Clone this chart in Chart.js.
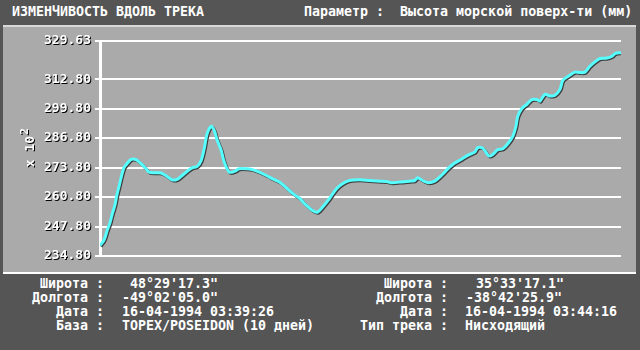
<!DOCTYPE html>
<html>
<head>
<meta charset="utf-8">
<script src="https://cdn.jsdelivr.net/npm/chart.js@4"></script>
<style>
  html,body{margin:0;padding:0;}
  body{width:640px;height:350px;background:#555555;position:relative;overflow:hidden;
       font-family:'DejaVu Sans Mono',monospace;font-weight:bold;font-size:13.3px;color:#fff;}
  .t{position:absolute;white-space:pre;line-height:14px;}
  .r{text-align:right;}
  #sepTop{position:absolute;left:3px;top:25px;width:633px;height:2px;background:#d8d8d8;}
  #plot{position:absolute;left:3px;top:27px;width:633px;height:245px;background:#aaaaaa;}
  #sepBot{position:absolute;left:3px;top:272px;width:633px;height:2px;background:#ffffff;}
</style>
</head>
<body>
<div class="t" style="left:12px;top:5px">ИЗМЕНЧИВОСТЬ ВДОЛЬ ТРЕКА</div>
<div class="t" style="left:304px;top:5px">Параметр :  Высота морской поверх-ти (мм)</div>
<div id="sepTop"></div>
<div id="plot"><canvas id="chart" width="633" height="245"></canvas></div>
<div id="sepBot"></div>

<div class="t r" style="right:536px;top:277px">Широта :</div>
<div class="t r" style="right:536px;top:291px">Долгота :</div>
<div class="t r" style="right:536px;top:305px">Дата :</div>
<div class="t r" style="right:536px;top:319px">База :</div>
<div class="t" style="left:130px;top:277px">48°29'17.3"</div>
<div class="t" style="left:122px;top:291px">-49°02'05.0"</div>
<div class="t" style="left:122px;top:305px">16-04-1994 03:39:26</div>
<div class="t" style="left:122px;top:319px">TOPEX/POSEIDON (10 дней)</div>

<div class="t r" style="right:192px;top:277px">Широта :</div>
<div class="t r" style="right:192px;top:291px">Долгота :</div>
<div class="t r" style="right:192px;top:305px">Дата :</div>
<div class="t r" style="right:192px;top:319px">Тип трека :</div>
<div class="t" style="left:476px;top:277px">35°33'17.1"</div>
<div class="t" style="left:466px;top:291px">-38°42'25.9"</div>
<div class="t" style="left:465px;top:305px">16-04-1994 03:44:16</div>
<div class="t" style="left:465px;top:319px">Нисходящий</div>

<script>
// position along track (arbitrary units) and sea surface height (x10^2 mm)
const trackPos=[0,4,7,10,12,15,17,19,22,24,26,31,36,41,46,49,54,61,67,72,77,82,87,92,97,
  101,104,107,111,114,117,121,124,129,134,139,146,152,159,166,172,179,186,192,199,206,212,217,222,229,236,242,
  249,259,269,279,286,291,299,309,314,317,322,328,334,339,344,349,354,359,364,369,374,377,381,384,388,392,397,
  402,407,412,415,417,421,426,431,436,439,444,449,454,459,462,467,474,479,484,489,494,499,506,511,514,520];
const seaLevel=[239.4,241.8,245.8,249.5,253.0,257.5,262.0,265.5,271.0,273.8,275.0,277.4,277.3,275.5,273.3,271.8,271.5,271.4,269.9,268.4,268.6,270.3,272.2,273.7,274.3,
  277.0,282.1,288.8,292.0,290.2,285.8,281.4,276.2,271.8,272.1,273.3,273.3,272.9,271.8,270.3,268.9,267.4,264.9,262.5,260.3,257.1,254.9,254.1,256.3,260.1,264.5,266.7,
  268.1,268.4,268.1,267.8,267.7,267.1,267.4,267.8,268.1,269.3,268.1,267.1,267.8,269.6,271.8,274.0,275.8,277.0,278.4,279.6,280.6,282.6,282.6,281.4,278.9,279.6,281.7,
  282.1,284.3,287.6,291.7,296.4,299.8,301.7,303.8,303.8,303.1,306.1,305.4,305.7,308.2,312.3,314.0,315.9,315.7,315.9,318.5,320.4,321.9,322.1,322.9,324.1,324.5];
const yTicks=[234.80,247.80,260.80,273.80,286.80,299.80,312.80,329.63];
const yMin=234.80, yMax=329.63;
const yUnit='x 10', yUnitPow='2';

const monoFont={family:"'DejaVu Sans Mono', monospace",size:13,weight:'bold'};

const shade={
  id:'shade',
  beforeDatasetDraw(c){const x=c.ctx;x.save();x.shadowColor='#3c3c3c';x.shadowOffsetX=1;x.shadowOffsetY=1;x.shadowBlur=0;},
  afterDatasetDraw(c){c.ctx.restore();},
  afterLayout(c){
    const s=c.scales.y; if(s.__shaded) return;
    const f=s.drawLabels.bind(s);
    s.drawLabels=function(a){const x=this.ctx;x.save();x.shadowColor='#000';x.shadowOffsetX=1;x.shadowOffsetY=1;x.shadowBlur=0;f(a);x.restore();};
    s.__shaded=true;
  },
  // "x 10" with a raised 2, rotated, left of the tick labels
  afterDraw(c){
    const x=c.ctx, a=c.chartArea, cy=(a.top+a.bottom)/2;
    x.save();
    x.translate(28,cy); x.rotate(-Math.PI/2);
    x.shadowColor='#000';x.shadowOffsetX=1;x.shadowOffsetY=1;x.shadowBlur=0;
    x.fillStyle='#fff'; x.textBaseline='middle'; x.textAlign='center';
    x.font="bold 13px 'DejaVu Sans Mono', monospace";
    x.fillText(yUnit,-3,0);
    x.font="bold 11px 'DejaVu Sans Mono', monospace";
    x.fillText(yUnitPow,17,-6);
    x.restore();
  }
};

new Chart(document.getElementById('chart'),{
  type:'line',
  data:{datasets:[{
    data:trackPos.map((p,i)=>({x:p,y:seaLevel[i]})),
    borderColor:'#55ffff',borderWidth:3,pointRadius:0,tension:0.3,fill:false
  }]},
  options:{
    responsive:false,animation:false,devicePixelRatio:1,
    layout:{padding:{left:0,top:14,right:15,bottom:16}},
    plugins:{legend:{display:false},tooltip:{enabled:false}},
    scales:{
      x:{type:'linear',min:0,max:520,display:false},
      y:{min:yMin,max:yMax,
        afterBuildTicks:s=>{s.ticks=yTicks.map(v=>({value:v}));},
        afterFit:s=>{s.width=97;},
        grid:{color:'#ffffff',lineWidth:2,drawTicks:true,tickLength:5},
        border:{color:'#ffffff',width:3},
        ticks:{color:'#ffffff',font:monoFont,padding:4,callback:v=>Number(v).toFixed(2)}
      }
    }
  },
  plugins:[shade]
});
</script>
</body>
</html>
